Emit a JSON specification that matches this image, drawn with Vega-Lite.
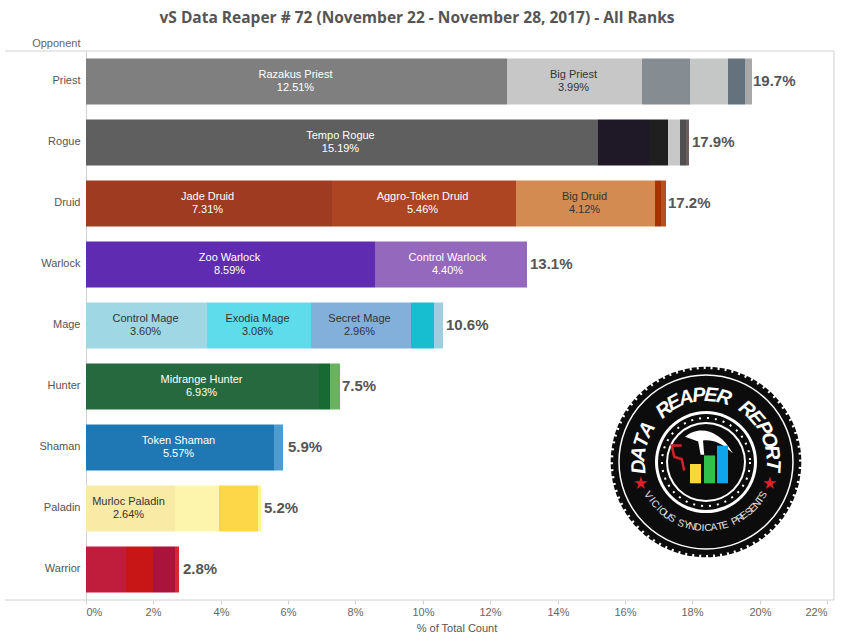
{
  "$schema": "https://vega.github.io/schema/vega-lite/v6.json",
  "width": 741,
  "height": 549,
  "autosize": "none",
  "padding": {"left": 86, "top": 51, "right": 20, "bottom": 43},
  "background": "white",
  "title": {
    "text": "vS Data Reaper # 72 (November 22 - November 28, 2017) - All Ranks",
    "font": "Open Sans",
    "fontSize": 15.5,
    "fontWeight": "bold",
    "color": "#555555",
    "anchor": "middle",
    "dx": -39.5,
    "offset": 11
  },
  "config": {
    "view": {"stroke": null},
    "font": "Liberation Sans"
  },
  "datasets": {
    "segments": [
      {"opponent": "Priest", "archetype": "Razakus Priest", "rank": 1, "share": 0.1251},
      {"opponent": "Priest", "archetype": "Big Priest", "rank": 2, "share": 0.0399},
      {"opponent": "Priest", "archetype": "Other Priest 1", "rank": 3, "share": 0.0143},
      {"opponent": "Priest", "archetype": "Other Priest 2", "rank": 4, "share": 0.0113},
      {"opponent": "Priest", "archetype": "Other Priest 3", "rank": 5, "share": 0.005},
      {"opponent": "Priest", "archetype": "Other Priest 4", "rank": 6, "share": 0.0021},
      {"opponent": "Rogue", "archetype": "Tempo Rogue", "rank": 1, "share": 0.1519},
      {"opponent": "Rogue", "archetype": "Other Rogue 1", "rank": 2, "share": 0.0154},
      {"opponent": "Rogue", "archetype": "Other Rogue 2", "rank": 3, "share": 0.0056},
      {"opponent": "Rogue", "archetype": "Other Rogue 3", "rank": 4, "share": 0.0036},
      {"opponent": "Rogue", "archetype": "Other Rogue 4", "rank": 5, "share": 0.0017},
      {"opponent": "Rogue", "archetype": "Other Rogue 5", "rank": 6, "share": 0.0007},
      {"opponent": "Druid", "archetype": "Jade Druid", "rank": 1, "share": 0.0731},
      {"opponent": "Druid", "archetype": "Aggro-Token Druid", "rank": 2, "share": 0.0546},
      {"opponent": "Druid", "archetype": "Big Druid", "rank": 3, "share": 0.0412},
      {"opponent": "Druid", "archetype": "Other Druid 1", "rank": 4, "share": 0.0019},
      {"opponent": "Druid", "archetype": "Other Druid 2", "rank": 5, "share": 0.0013},
      {"opponent": "Warlock", "archetype": "Zoo Warlock", "rank": 1, "share": 0.0859},
      {"opponent": "Warlock", "archetype": "Control Warlock", "rank": 2, "share": 0.044},
      {"opponent": "Warlock", "archetype": "Other Warlock 1", "rank": 3, "share": 0.0011},
      {"opponent": "Mage", "archetype": "Control Mage", "rank": 1, "share": 0.036},
      {"opponent": "Mage", "archetype": "Exodia Mage", "rank": 2, "share": 0.0308},
      {"opponent": "Mage", "archetype": "Secret Mage", "rank": 3, "share": 0.0296},
      {"opponent": "Mage", "archetype": "Other Mage 1", "rank": 4, "share": 0.0068},
      {"opponent": "Mage", "archetype": "Other Mage 2", "rank": 5, "share": 0.0027},
      {"opponent": "Hunter", "archetype": "Midrange Hunter", "rank": 1, "share": 0.0693},
      {"opponent": "Hunter", "archetype": "Other Hunter 1", "rank": 2, "share": 0.0031},
      {"opponent": "Hunter", "archetype": "Other Hunter 2", "rank": 3, "share": 0.003},
      {"opponent": "Shaman", "archetype": "Token Shaman", "rank": 1, "share": 0.0557},
      {"opponent": "Shaman", "archetype": "Other Shaman 1", "rank": 2, "share": 0.0029},
      {"opponent": "Paladin", "archetype": "Murloc Paladin", "rank": 1, "share": 0.0264},
      {"opponent": "Paladin", "archetype": "Other Paladin 1", "rank": 2, "share": 0.0131},
      {"opponent": "Paladin", "archetype": "Other Paladin 2", "rank": 3, "share": 0.0116},
      {"opponent": "Paladin", "archetype": "Other Paladin 3", "rank": 4, "share": 0.001},
      {"opponent": "Warrior", "archetype": "Other Warrior 1", "rank": 1, "share": 0.0119},
      {"opponent": "Warrior", "archetype": "Other Warrior 2", "rank": 2, "share": 0.008},
      {"opponent": "Warrior", "archetype": "Other Warrior 3", "rank": 3, "share": 0.0065},
      {"opponent": "Warrior", "archetype": "Other Warrior 4", "rank": 4, "share": 0.0012}
    ],
    "totals": [
      {"opponent": "Priest", "total": 0.197},
      {"opponent": "Rogue", "total": 0.179},
      {"opponent": "Druid", "total": 0.172},
      {"opponent": "Warlock", "total": 0.131},
      {"opponent": "Mage", "total": 0.106},
      {"opponent": "Hunter", "total": 0.075},
      {"opponent": "Shaman", "total": 0.059},
      {"opponent": "Paladin", "total": 0.052},
      {"opponent": "Warrior", "total": 0.028}
    ],
    "frame": [
      {"from": -0.024, "to": 0.2221, "row": 0},
      {"from": -0.024, "to": 0.2221, "row": 9}
    ],
    "edge": [{"px": 0.2221, "top": 0, "base": 9}],
    "logoCentre": [{"px": 0.184, "row": 6.738}],
    "logoStars": [
      {"px": 0.1649, "row": 7.087},
      {"px": 0.2032, "row": 7.087}
    ],
    "logoBars": [
      {"bar": "yellow", "from": 0.1794, "to": 0.1825, "top": 6.77, "base": 7.087},
      {"bar": "green", "from": 0.1834, "to": 0.1866, "top": 6.63, "base": 7.087},
      {"bar": "blue", "from": 0.1873, "to": 0.1906, "top": 6.47, "base": 7.087}
    ],
    "logoTop": [
      {"ch": "D", "px": 0.1642, "row": 6.815, "turn": -94},
      {"ch": "A", "px": 0.1643, "row": 6.604, "turn": -83},
      {"ch": "T", "px": 0.1651, "row": 6.399, "turn": -72},
      {"ch": "A", "px": 0.1666, "row": 6.206, "turn": -61},
      {"ch": "R", "px": 0.1715, "row": 5.885, "turn": -39},
      {"ch": "E", "px": 0.1747, "row": 5.768, "turn": -28},
      {"ch": "A", "px": 0.1782, "row": 5.688, "turn": -17},
      {"ch": "P", "px": 0.1819, "row": 5.646, "turn": -6},
      {"ch": "E", "px": 0.1857, "row": 5.644, "turn": 5},
      {"ch": "R", "px": 0.1895, "row": 5.683, "turn": 16},
      {"ch": "R", "px": 0.1962, "row": 5.873, "turn": 38},
      {"ch": "E", "px": 0.199, "row": 6.018, "turn": 49},
      {"ch": "P", "px": 0.2012, "row": 6.189, "turn": 60},
      {"ch": "O", "px": 0.2028, "row": 6.38, "turn": 71},
      {"ch": "R", "px": 0.2037, "row": 6.585, "turn": 82},
      {"ch": "T", "px": 0.2039, "row": 6.795, "turn": 93}
    ],
    "logoBottom": [
      {"ch": "V", "px": 0.167, "row": 7.279, "turn": 60},
      {"ch": "I", "px": 0.1679, "row": 7.356, "turn": 55},
      {"ch": "C", "px": 0.1689, "row": 7.428, "turn": 50},
      {"ch": "I", "px": 0.17, "row": 7.495, "turn": 46},
      {"ch": "O", "px": 0.1712, "row": 7.557, "turn": 41},
      {"ch": "U", "px": 0.1725, "row": 7.613, "turn": 36},
      {"ch": "S", "px": 0.1739, "row": 7.663, "turn": 31},
      {"ch": "S", "px": 0.1768, "row": 7.744, "turn": 22},
      {"ch": "Y", "px": 0.1783, "row": 7.774, "turn": 17},
      {"ch": "N", "px": 0.1799, "row": 7.796, "turn": 12},
      {"ch": "D", "px": 0.1816, "row": 7.811, "turn": 7},
      {"ch": "I", "px": 0.1832, "row": 7.819, "turn": 2},
      {"ch": "C", "px": 0.1848, "row": 7.819, "turn": -2},
      {"ch": "A", "px": 0.1864, "row": 7.811, "turn": -7},
      {"ch": "T", "px": 0.1881, "row": 7.796, "turn": -12},
      {"ch": "E", "px": 0.1897, "row": 7.774, "turn": -17},
      {"ch": "P", "px": 0.1927, "row": 7.707, "turn": -26},
      {"ch": "R", "px": 0.1941, "row": 7.663, "turn": -31},
      {"ch": "E", "px": 0.1955, "row": 7.613, "turn": -36},
      {"ch": "S", "px": 0.1968, "row": 7.557, "turn": -41},
      {"ch": "E", "px": 0.198, "row": 7.495, "turn": -46},
      {"ch": "N", "px": 0.1991, "row": 7.428, "turn": -50},
      {"ch": "T", "px": 0.2001, "row": 7.356, "turn": -55},
      {"ch": "S", "px": 0.201, "row": 7.279, "turn": -60}
    ]
  },
  "resolve": {"scale": {"y": "independent", "color": "independent"}},
  "layer": [
    {
      "encoding": {
        "y": {
          "field": "opponent",
          "type": "nominal",
          "sort": ["Priest", "Rogue", "Druid", "Warlock", "Mage", "Hunter", "Shaman", "Paladin", "Warrior"],
          "scale": {"paddingInner": 0.246, "paddingOuter": 0.123},
          "axis": {
            "title": "Opponent",
            "titleAngle": 0,
            "titleAlign": "right",
            "titleBaseline": "middle",
            "titleX": -6,
            "titleY": -8,
            "titleFont": "Liberation Sans",
            "titleFontSize": 11,
            "titleFontWeight": "normal",
            "titleColor": "#666666",
            "labelFont": "Liberation Sans",
            "labelFontSize": 11,
            "labelColor": "#555555",
            "labelPadding": 6,
            "labelOffset": -1,
            "ticks": false,
            "domainColor": "#d0d0d0",
            "domainWidth": 1,
            "grid": false
          }
        }
      },
      "layer": [
        {
          "data": {"name": "segments"},
          "mark": {"type": "bar"},
          "encoding": {
            "x": {
              "field": "share",
              "type": "quantitative",
              "stack": "zero",
              "scale": {"domain": [0, 0.22], "nice": false, "round": true},
              "axis": {
                "title": "% of Total Count",
                "titleFont": "Liberation Sans",
                "titleFontSize": 11,
                "titleFontWeight": "normal",
                "titleColor": "#555555",
                "titlePadding": 5,
                "values": [0, 0.02, 0.04, 0.06, 0.08, 0.1, 0.12, 0.14, 0.16, 0.18, 0.2, 0.22],
                "format": ".0%",
                "labelFont": "Liberation Sans",
                "labelFontSize": 11,
                "labelColor": "#666666",
                "labelFlush": true,
                "labelPadding": 2,
                "tickColor": "#d0d0d0",
                "tickSize": 4,
                "domain": false,
                "grid": false
              }
            },
            "order": {"field": "rank", "type": "quantitative"},
            "color": {
              "field": "archetype",
              "type": "nominal",
              "legend": null,
              "scale": {
                "domain": ["Razakus Priest", "Big Priest", "Other Priest 1", "Other Priest 2", "Other Priest 3", "Other Priest 4", "Tempo Rogue", "Other Rogue 1", "Other Rogue 2", "Other Rogue 3", "Other Rogue 4", "Other Rogue 5", "Jade Druid", "Aggro-Token Druid", "Big Druid", "Other Druid 1", "Other Druid 2", "Zoo Warlock", "Control Warlock", "Other Warlock 1", "Control Mage", "Exodia Mage", "Secret Mage", "Other Mage 1", "Other Mage 2", "Midrange Hunter", "Other Hunter 1", "Other Hunter 2", "Token Shaman", "Other Shaman 1", "Murloc Paladin", "Other Paladin 1", "Other Paladin 2", "Other Paladin 3", "Other Warrior 1", "Other Warrior 2", "Other Warrior 3", "Other Warrior 4"],
                "range": ["#7f7f7f", "#c7c7c7", "#858c92", "#c5c7c6", "#63727c", "#a8a8a8", "#5f5f5f", "#1e1827", "#1f1f1f", "#c8c8c8", "#505050", "#6e5f5f", "#9e3b20", "#ad4522", "#d38b52", "#a83300", "#b5501f", "#5f2bb0", "#9468bd", "#9468bd", "#a0d7e5", "#5fdcec", "#82b0da", "#17bed0", "#9fcfde", "#26693f", "#166a32", "#69b25f", "#1f78b4", "#4f9bcf", "#f9eba6", "#fdf5ab", "#fed748", "#fff58a", "#c01c3c", "#c81617", "#aa133c", "#d9262e"]
              }
            }
          }
        },
        {
          "data": {"name": "segments"},
          "mark": {"type": "text", "dx": -1.5, "dy": -6.5, "fontSize": 11, "font": "Liberation Sans"},
          "encoding": {
            "x": {"field": "share", "type": "quantitative", "stack": "zero", "bandPosition": 0.5},
            "detail": {"field": "archetype"},
            "order": {"field": "rank", "type": "quantitative"},
            "text": {"condition": {"test": "datum.share > 0.02", "field": "archetype"}, "value": ""},
            "color": {
              "condition": {"test": "indexof(['Big Priest','Big Druid','Control Mage','Exodia Mage','Secret Mage','Murloc Paladin'], datum.archetype) >= 0", "value": "#333333"},
              "value": "#ffffff"
            }
          }
        },
        {
          "data": {"name": "segments"},
          "mark": {"type": "text", "dx": -1.5, "dy": 6.5, "fontSize": 11, "font": "Liberation Sans"},
          "encoding": {
            "x": {"field": "share", "type": "quantitative", "stack": "zero", "bandPosition": 0.5},
            "detail": {"field": "archetype"},
            "order": {"field": "rank", "type": "quantitative"},
            "text": {"condition": {"test": "datum.share > 0.02", "field": "share", "format": ".2%"}, "value": ""},
            "color": {
              "condition": {"test": "indexof(['Big Priest','Big Druid','Control Mage','Exodia Mage','Secret Mage','Murloc Paladin'], datum.archetype) >= 0", "value": "#333333"},
              "value": "#ffffff"
            }
          }
        },
        {
          "data": {"name": "totals"},
          "mark": {"type": "text", "align": "left", "dx": 3, "dy": -1, "fontSize": 15, "fontWeight": "bold", "color": "#555555", "font": "Liberation Sans"},
          "encoding": {
            "x": {"field": "total", "type": "quantitative"},
            "text": {"field": "total", "format": ".1%"}
          }
        }
      ]
    },
    {
      "encoding": {
        "y": {"field": "row", "type": "quantitative", "axis": null, "scale": {"domain": [0, 9], "reverse": true, "nice": false, "zero": false}},
        "x": {"field": "px", "type": "quantitative"}
      },
      "layer": [
        {
          "data": {"name": "frame"},
          "mark": {"type": "rule", "color": "#d0d0d0", "strokeWidth": 1},
          "encoding": {
            "x": {"field": "from", "type": "quantitative"},
            "x2": {"field": "to"}
          }
        },
        {
          "data": {"name": "edge"},
          "mark": {"type": "rule", "color": "#d0d0d0", "strokeWidth": 1},
          "encoding": {
            "y": {"field": "top", "type": "quantitative", "axis": null},
            "y2": {"field": "base"}
          }
        },
        {
          "data": {"name": "logoCentre"},
          "mark": {"type": "point", "shape": "circle", "filled": true, "color": "#0c0c0c", "size": 34600, "opacity": 1}
        },
        {
          "data": {"name": "logoCentre"},
          "mark": {"type": "point", "shape": "circle", "filled": false, "stroke": "#0c0c0c", "strokeWidth": 3, "strokeDash": [5, 2], "size": 35200, "opacity": 1}
        },
        {
          "data": {"name": "logoCentre"},
          "mark": {"type": "point", "shape": "circle", "filled": false, "stroke": "#ffffff", "strokeWidth": 1.5, "size": 30276, "opacity": 1}
        },
        {
          "data": {"name": "logoCentre"},
          "mark": {"type": "point", "shape": "circle", "filled": true, "color": "#ffffff", "size": 10404, "opacity": 1}
        },
        {
          "data": {"name": "logoCentre"},
          "mark": {"type": "point", "shape": "circle", "filled": true, "color": "#0c0c0c", "size": 9216, "opacity": 1}
        },
        {
          "data": {"name": "logoCentre"},
          "mark": {"type": "point", "shape": "circle", "filled": false, "stroke": "#ffffff", "strokeWidth": 2, "strokeDash": [2, 6], "size": 7744, "opacity": 1}
        },
        {
          "data": {"name": "logoCentre"},
          "mark": {"type": "point", "shape": "circle", "filled": true, "color": "#ffffff", "size": 6400, "opacity": 1}
        },
        {
          "data": {"name": "logoCentre"},
          "mark": {"type": "point", "shape": "circle", "filled": true, "color": "#0c0c0c", "size": 5776, "opacity": 1}
        },
        {
          "data": {"name": "logoCentre"},
          "mark": {
            "type": "point",
            "shape": "M-1,-.3 C-.5,-.75 .4,-.7 1,.4 C.5,-.1 .1,-.2 -.25,-.15 L-.2,.45 L-.35,.45 L-.45,-.1 Z",
            "filled": true,
            "color": "#ffffff",
            "size": 2304,
            "opacity": 1,
            "xOffset": 3,
            "yOffset": -18
          }
        },
        {
          "data": {"name": "logoCentre"},
          "mark": {
            "type": "point",
            "shape": "M.3,-1 L-.5,-1 L-.3,-.1 L.3,.1 L.5,1",
            "filled": false,
            "stroke": "#d4202a",
            "strokeWidth": 2.5,
            "size": 625,
            "opacity": 1,
            "xOffset": -28,
            "yOffset": -4
          }
        },
        {
          "data": {"name": "logoBars"},
          "mark": {"type": "rect"},
          "encoding": {
            "x": {"field": "from", "type": "quantitative"},
            "x2": {"field": "to"},
            "y": {"field": "top", "type": "quantitative", "axis": null},
            "y2": {"field": "base"},
            "color": {
              "field": "bar",
              "type": "nominal",
              "legend": null,
              "scale": {"domain": ["yellow", "green", "blue"], "range": ["#fdd835", "#2fbf4a", "#0fa5ec"]}
            }
          }
        },
        {
          "data": {"name": "logoStars"},
          "mark": {
            "type": "point",
            "shape": "M0,-1L.235,-.309L.951,-.309L.363,.118L.588,.809L0,.382L-.588,.809L-.363,.118L-.951,-.309L-.235,-.309Z",
            "filled": true,
            "color": "#e0202a",
            "size": 196,
            "opacity": 1
          }
        },
        {
          "data": {"name": "logoTop"},
          "mark": {"type": "text", "fontSize": 20, "fontWeight": "bold", "fontStyle": "italic", "color": "#ffffff", "font": "Liberation Sans", "baseline": "middle"},
          "encoding": {
            "text": {"field": "ch"},
            "angle": {"field": "turn", "type": "quantitative", "scale": null}
          }
        },
        {
          "data": {"name": "logoBottom"},
          "mark": {"type": "text", "fontSize": 10, "color": "#e8e8e8", "font": "Liberation Sans", "baseline": "middle"},
          "encoding": {
            "text": {"field": "ch"},
            "angle": {"field": "turn", "type": "quantitative", "scale": null}
          }
        }
      ]
    }
  ]
}
